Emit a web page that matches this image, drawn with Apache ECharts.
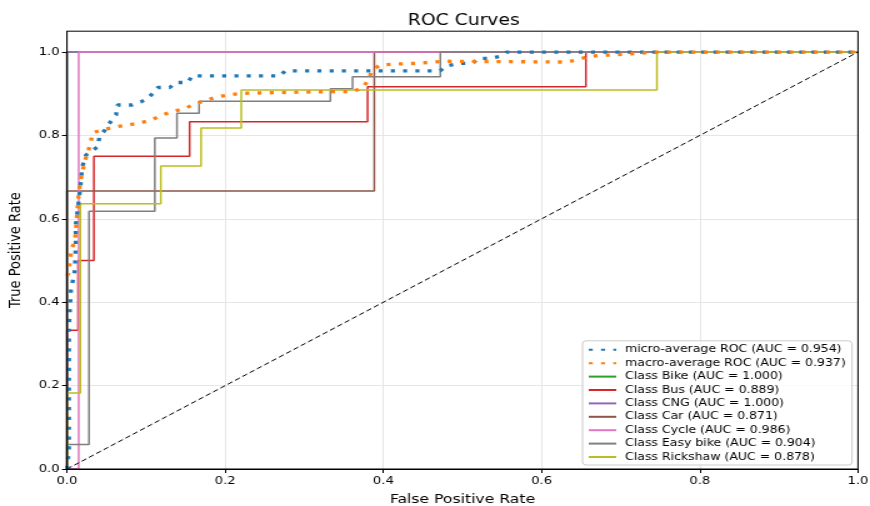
<!DOCTYPE html>
<html>
<head>
<meta charset="utf-8">
<script src="https://cdn.jsdelivr.net/npm/echarts@6/dist/echarts.min.js"></script>
<style>
  html, body { margin: 0; padding: 0; background: #fff; overflow: hidden; }
  /* 原图是横向拉伸过的，这里整体横向放大 1.25 倍 */
  #chart { width: 696px; height: 506px; transform: scaleX(1.25); transform-origin: 0 0; }
</style>
</head>
<body>
<div id="chart"></div>
<script>
// ROC 曲线数据（从图上读出的 fpr / tpr）
var microFpr = [0, 0.0025, 0.0025, 0.005, 0.010, 0.011, 0.011, 0.017, 0.018, 0.020, 0.024, 0.039, 0.041, 0.048, 0.052, 0.062, 0.064, 0.082, 0.094, 0.102, 0.109, 0.115, 0.130, 0.137, 0.153, 0.158, 0.269, 0.276, 0.472, 0.478, 0.497, 0.513, 0.520, 0.535, 0.548, 0.556, 1.0]
var microTpr = [0, 0.046, 0.341, 0.429, 0.477, 0.537, 0.585, 0.677, 0.701, 0.729, 0.753, 0.773, 0.797, 0.813, 0.825, 0.849, 0.873, 0.873, 0.881, 0.889, 0.902, 0.915, 0.915, 0.927, 0.927, 0.943, 0.943, 0.955, 0.955, 0.966, 0.973, 0.973, 0.985, 0.985, 0.990, 1.0, 1.0]

var macroFpr = [0, 0.002, 0.003, 0.006, 0.010, 0.0148, 0.017, 0.020, 0.023, 0.027, 0.030, 0.033, 0.048, 0.063, 0.078, 0.092, 0.107, 0.120, 0.134, 0.149, 0.164, 0.177, 0.191, 0.204, 0.219, 0.328, 0.362, 0.375, 0.381, 0.386, 0.396, 0.413, 0.442, 0.476, 0.632, 0.644, 0.659, 0.674, 0.691, 0.708, 0.724, 0.741, 1.0]
var macroTpr = [0.463, 0.470, 0.490, 0.530, 0.545, 0.660, 0.690, 0.717, 0.741, 0.763, 0.785, 0.807, 0.815, 0.821, 0.825, 0.830, 0.837, 0.849, 0.857, 0.865, 0.877, 0.885, 0.893, 0.897, 0.901, 0.905, 0.905, 0.917, 0.934, 0.957, 0.969, 0.971, 0.973, 0.978, 0.976, 0.981, 0.989, 0.992, 0.993, 0.995, 0.997, 1.0, 1.0]

var classNames = ['Bike', 'Bus', 'CNG', 'Car', 'Cycle', 'Easy bike', 'Rickshaw']
var classAuc = ['1.000', '0.889', '1.000', '0.871', '0.986', '0.904', '0.878']
var classColors = ['#2ca02c', '#d62728', '#9467bd', '#8c564b', '#e377c2', '#7f7f7f', '#bcbd22']

var bikeFpr = [0, 0, 1]
var bikeTpr = [0, 1, 1]
var busFpr = [0, 0, 0.014, 0.014, 0.034, 0.034, 0.155, 0.155, 0.380, 0.380, 0.656, 0.656, 1]
var busTpr = [0, 0.333, 0.333, 0.5, 0.5, 0.75, 0.75, 0.833, 0.833, 0.917, 0.917, 1, 1]
var cngFpr = [0, 0, 1]
var cngTpr = [0, 1, 1]
var carFpr = [0, 0, 0.3885, 0.3885, 1]
var carTpr = [0, 0.667, 0.667, 1, 1]
var cycleFpr = [0, 0.0148, 0.0148, 1]
var cycleTpr = [0, 0, 1, 1]
var easyFpr = [0, 0, 0.0278, 0.0278, 0.111, 0.111, 0.139, 0.139, 0.167, 0.167, 0.333, 0.333, 0.361, 0.361, 0.472, 0.472, 1]
var easyTpr = [0, 0.059, 0.059, 0.618, 0.618, 0.794, 0.794, 0.853, 0.853, 0.882, 0.882, 0.912, 0.912, 0.941, 0.941, 1, 1]
var rickFpr = [0, 0, 0.0169, 0.0169, 0.1186, 0.1186, 0.1695, 0.1695, 0.2203, 0.2203, 0.7458, 0.7458, 1]
var rickTpr = [0, 0.182, 0.182, 0.636, 0.636, 0.727, 0.727, 0.818, 0.818, 0.909, 0.909, 1, 1]

var classFpr = [bikeFpr, busFpr, cngFpr, carFpr, cycleFpr, easyFpr, rickFpr]
var classTpr = [bikeTpr, busTpr, cngTpr, carTpr, cycleTpr, easyTpr, rickTpr]

var diagX = [0, 1]
var diagY = [0, 1]

// 刻度
var xTicks = [0, 0.2, 0.4, 0.6, 0.8, 1.0]
var yTicks = [0, 0.2, 0.4, 0.6, 0.8, 1.0]

function zip(xs, ys) {
  return xs.map(function(x, i) { return [x, ys[i]] })
}

var font = 'DejaVu Sans'
var microName = 'micro-average ROC (AUC = 0.954)'
var macroName = 'macro-average ROC (AUC = 0.937)'

var series = []
var legendNames = [microName, macroName]

classNames.forEach(function(c, i) {
  var name = 'Class ' + c + ' (AUC = ' + classAuc[i] + ')'
  legendNames.push(name)
  series.push({
    name: name,
    type: 'line',
    data: zip(classFpr[i], classTpr[i]),
    symbol: 'none',
    z: 2 + i * 0.01,
    lineStyle: { color: classColors[i], width: 1.5 },
    itemStyle: { color: classColors[i] }
  })
})

series.push({
  name: microName,
  type: 'line',
  data: zip(microFpr, microTpr),
  symbol: 'none',
  z: 4,
  lineStyle: { color: '#1f77b4', width: 3.3, type: [3.2, 6.6], cap: 'butt' },
  itemStyle: { color: '#1f77b4' }
})
series.push({
  name: macroName,
  type: 'line',
  data: zip(macroFpr, macroTpr),
  symbol: 'none',
  z: 4,
  lineStyle: { color: '#ff7f0e', width: 3.3, type: [3.2, 6.6], cap: 'butt' },
  itemStyle: { color: '#ff7f0e' }
})
series.push({
  name: 'diag',
  type: 'line',
  data: zip(diagX, diagY),
  symbol: 'none',
  z: 3,
  lineStyle: { color: '#000', width: 1, type: [4.5, 2.5] }
})

var tickLabel = function(v) { return v.toFixed(1) }
var splitStyle = { show: true, lineStyle: { color: '#e6e6e6', width: 1 } }

var chart = echarts.init(document.getElementById('chart'), null, { renderer: 'canvas' })
chart.setOption({
  animation: false,
  backgroundColor: '#fff',
  title: {
    text: 'ROC Curves',
    left: 366,
    top: 9,
    textAlign: 'center',
    textStyle: { fontFamily: font, fontSize: 15, fontWeight: 'normal', color: '#000' }
  },
  grid: {
    left: 53.6, right: 9.6, top: 31.2, bottom: 37,
    containLabel: false,
    outerBoundsMode: 'none',
    show: true, borderColor: '#000', borderWidth: 1, z: 10
  },
  legend: {
    data: legendNames,
    orient: 'vertical',
    right: 14.4,
    bottom: 41,
    itemWidth: 22,
    itemHeight: 10,
    itemGap: 3.4,
    padding: [4, 5, 3, 4],
    borderColor: '#cccccc',
    borderWidth: 1,
    borderRadius: 3,
    backgroundColor: 'rgba(255,255,255,0.8)',
    itemStyle: { opacity: 0 },
    textStyle: { fontFamily: font, fontSize: 10, color: '#000', padding: [0, 0, 0, 2] }
  },
  xAxis: [{
    type: 'value',
    min: 0, max: 1,
    z: 10,
    name: 'False Positive Rate',
    nameLocation: 'middle',
    nameGap: 24,
    nameTextStyle: { fontFamily: font, fontSize: 12.5, color: '#000' },
    axisLine: { show: true, lineStyle: { color: '#000' } },
    axisTick: { show: true, length: 4, lineStyle: { color: '#000' }, customValues: xTicks },
    axisLabel: { fontFamily: font, fontSize: 10.5, color: '#000', margin: 7, customValues: xTicks, formatter: tickLabel },
    splitLine: { show: false }
  }, {
    // 只画网格线，放在曲线下面
    type: 'value',
    min: 0, max: 1,
    z: 0,
    position: 'bottom',
    axisLine: { show: false },
    axisTick: { show: false, customValues: xTicks },
    axisLabel: { show: false },
    splitLine: splitStyle
  }],
  yAxis: [{
    type: 'value',
    min: 0, max: 1.05,
    z: 10,
    name: 'True Positive Rate',
    nameLocation: 'middle',
    nameGap: 34,
    nameTextStyle: { fontFamily: font, fontSize: 13, color: '#000' },
    axisLine: { show: true, lineStyle: { color: '#000' } },
    axisTick: { show: true, length: 4, lineStyle: { color: '#000' }, customValues: yTicks },
    axisLabel: { fontFamily: font, fontSize: 10.5, color: '#000', margin: 6, customValues: yTicks, formatter: tickLabel },
    splitLine: { show: false }
  }, {
    type: 'value',
    min: 0, max: 1.05,
    z: 0,
    position: 'left',
    axisLine: { show: false },
    axisTick: { show: false, customValues: yTicks },
    axisLabel: { show: false },
    splitLine: splitStyle
  }],
  series: series
})
</script>
</body>
</html>
